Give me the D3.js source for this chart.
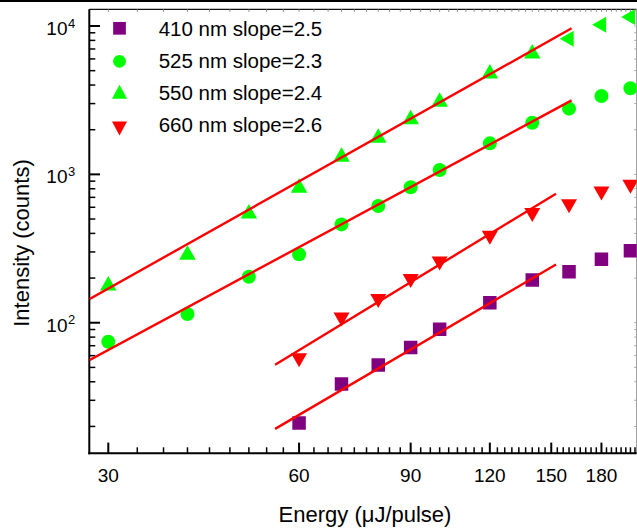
<!DOCTYPE html>
<html>
<head>
<meta charset="utf-8">
<script src="https://cdn.jsdelivr.net/npm/d3@7"></script>
<style>
  html, body { margin: 0; padding: 0; background: #fff; }
  svg { display: block; font-family: "Liberation Sans", Arial, sans-serif; }
</style>
</head>
<body>
<svg id="chart" width="637" height="530"></svg>
<script>
// Pump energy (µJ/pulse) and emission intensity (counts) for each wavelength
const energyGreen = [30, 40, 50, 60, 70, 80, 90, 100, 120, 140, 160, 180, 200];
const energyRedPurple = [60, 70, 80, 90, 100, 120, 140, 160, 180, 200];

const intensity550 = [178, 287, 543, 810, 1310, 1760, 2350, 3075, 4770, 6510, 8200, 10200, 11500];
const intensity525 = [74.4, 114.5, 204, 289, 460, 612, 818, 1070, 1618, 2230, 2772, 3375, 3802];
const intensity660 = [58, 109, 145, 198, 260, 387, 551, 633, 771, 855];
const intensity410 = [21.1, 38.6, 51.9, 68.2, 90.3, 136.4, 194, 220.6, 267.5, 305.7];

// Power-law fits: I = I_ref * (E / E_ref)^slope over [E_start, E_end]
const fitNames   = ["410 nm", "525 nm", "550 nm", "660 nm"];
const fitSlopes  = [2.5, 2.3, 2.4, 2.6];
const fitStart   = [55, 28, 28, 55];
const fitEnd     = [152.6, 161.5, 161.5, 152.6];
const fitRefE    = [91.6, 67.2, 67.2, 91.6];
const fitRefI    = [68.9, 419.4, 1177, 196.5];

// Axis ticks
const xMajorTicks = [30, 60, 90, 120, 150, 180];
const yMajorTicks = [100, 1000, 10000];
const yTickExponents = ["2", "3", "4"];

const svg = d3.select("#chart");
const L = 89.3, R = 636.7, T = 9.3, B = 453.3;

const x = d3.scaleLog().domain([28.0, 204.6]).range([L, R]);
const y = d3.scaleLog().domain([13.18, 12960]).range([B, T]);

// thin black rule across the very top
svg.append("rect").attr("x", 0).attr("y", 0).attr("width", 637).attr("height", 2).attr("fill", "#000");

// minor ticks
const xMinor = d3.range(1, 62).map(k => k * 10 / 3).filter(v => v >= 28 && v <= 204.6 && !xMajorTicks.some(m => Math.abs(m - v) < 1e-6));
const yMinor = [];
[10, 100, 1000, 10000].forEach(d => { for (let m = 2; m <= 9; m++) { const v = m * d; if (v >= 13.18 && v <= 12960) yMinor.push(v); } });

// top and right frame
svg.append("line").attr("x1", L).attr("x2", R).attr("y1", T).attr("y2", T).attr("stroke", "#111").attr("stroke-width", 1.2);
svg.append("line").attr("x1", R).attr("x2", R).attr("y1", T).attr("y2", B).attr("stroke", "#999").attr("stroke-width", 1.2);
svg.append("g").selectAll("line").data(xMinor.concat(xMajorTicks)).join("line")
  .attr("x1", d => x(d)).attr("x2", d => x(d)).attr("y1", T).attr("y2", T + 2.5)
  .attr("stroke", "#888").attr("stroke-width", 1);
svg.append("g").selectAll("line").data(yMinor.concat(yMajorTicks)).join("line")
  .attr("x1", R).attr("x2", R - 2.5).attr("y1", d => y(d)).attr("y2", d => y(d))
  .attr("stroke", "#aaa").attr("stroke-width", 1);

// axes with inward ticks
const ax = svg.append("g").attr("stroke", "#000");
ax.append("line").attr("x1", L).attr("x2", L).attr("y1", T).attr("y2", B + 1).attr("stroke-width", 2);
ax.append("line").attr("x1", L - 1).attr("x2", R).attr("y1", B).attr("y2", B).attr("stroke-width", 2);
ax.selectAll(".xmaj").data(xMajorTicks).join("line").attr("class", "xmaj")
  .attr("x1", d => x(d)).attr("x2", d => x(d)).attr("y1", B).attr("y2", B - 10.7).attr("stroke-width", 2);
ax.selectAll(".xmin").data(xMinor).join("line").attr("class", "xmin")
  .attr("x1", d => x(d)).attr("x2", d => x(d)).attr("y1", B).attr("y2", B - 6).attr("stroke-width", 1.5);
ax.selectAll(".ymaj").data(yMajorTicks).join("line").attr("class", "ymaj")
  .attr("x1", L).attr("x2", L + 10.7).attr("y1", d => y(d)).attr("y2", d => y(d)).attr("stroke-width", 2);
ax.selectAll(".ymin").data(yMinor).join("line").attr("class", "ymin")
  .attr("x1", L).attr("x2", L + 6).attr("y1", d => y(d)).attr("y2", d => y(d)).attr("stroke-width", 1.5);

// tick labels
svg.append("g").selectAll("text").data(xMajorTicks).join("text")
  .attr("x", d => x(d)).attr("y", 482).attr("text-anchor", "middle")
  .attr("font-size", 19).attr("fill", "#000").text(d => d);
const yl = svg.append("g");
yMajorTicks.forEach((v, i) => {
  yl.append("text").attr("x", 67.5).attr("y", y(v) + 9).attr("text-anchor", "end")
    .attr("font-size", 19).text("10");
  yl.append("text").attr("x", 68).attr("y", y(v) + 1.7).attr("font-size", 13).text(yTickExponents[i]);
});

// axis titles
svg.append("text").attr("x", 365).attr("y", 522).attr("text-anchor", "middle")
  .attr("font-size", 22).text("Energy (μJ/pulse)");
svg.append("text").attr("transform", "translate(28.5,243) rotate(-90)").attr("text-anchor", "middle")
  .attr("font-size", 22).text("Intensity (counts)");

// marker shapes (triangles centred on their centroid)
const shapes = {
  square: s => `M${-s/2},${-s/2}h${s}v${s}h${-s}Z`,
  up: (w, h) => `M0,${-2*h/3}L${w/2},${h/3}L${-w/2},${h/3}Z`,
  down: (w, h) => `M0,${2*h/3}L${w/2},${-h/3}L${-w/2},${-h/3}Z`,
  left: (w, h) => `M${-2*w/3},0L${w/3},${-h/2}L${w/3},${h/2}Z`
};

svg.append("defs").append("clipPath").attr("id", "plotclip")
  .append("rect").attr("x", L).attr("y", T).attr("width", R - L).attr("height", B - T);
const plot = svg.append("g").attr("clip-path", "url(#plotclip)");

const purple = "#800080", green = "#00ff00", red = "#ff0000";

// 410 nm squares
plot.append("g").selectAll("path").data(d3.zip(energyRedPurple, intensity410)).join("path")
  .attr("transform", d => `translate(${x(d[0])},${y(d[1])})`)
  .attr("d", shapes.square(13.5)).attr("fill", purple);
// 525 nm circles
plot.append("g").selectAll("circle").data(d3.zip(energyGreen, intensity525)).join("circle")
  .attr("cx", d => x(d[0])).attr("cy", d => y(d[1])).attr("r", 7).attr("fill", green);
// 550 nm triangles (the highest three energies drawn pointing left)
plot.append("g").selectAll("path").data(d3.zip(energyGreen, intensity550)).join("path")
  .attr("transform", d => `translate(${x(d[0])},${y(d[1])})`)
  .attr("d", d => d[0] >= 160 ? shapes.left(14, 16) : shapes.up(16.5, 14.5)).attr("fill", green);
// 660 nm down triangles
plot.append("g").selectAll("path").data(d3.zip(energyRedPurple, intensity660)).join("path")
  .attr("transform", d => `translate(${x(d[0])},${y(d[1])})`)
  .attr("d", shapes.down(16, 14)).attr("fill", red);

// fitted lines
const line = d3.line().x(d => x(d[0])).y(d => y(d[1]));
fitSlopes.forEach((s, i) => {
  const f = e => fitRefI[i] * Math.pow(e / fitRefE[i], s);
  const pts = [fitStart[i], fitEnd[i]].map(e => [e, f(e)]);
  plot.append("path").attr("d", line(pts)).attr("fill", "none")
    .attr("stroke", red).attr("stroke-width", 2.4);
});

// legend
const legend = svg.append("g");
const legendMarkers = [
  { d: shapes.square(12.7), c: purple, cy: 28.3 },
  { circle: true, c: green, cy: 61.3 },
  { d: shapes.up(15, 14), c: green, cy: 94 },
  { d: shapes.down(15, 14), c: red, cy: 126.2 }
];
legendMarkers.forEach((m, i) => {
  if (m.circle) legend.append("circle").attr("cx", 119.5).attr("cy", m.cy).attr("r", 6.4).attr("fill", m.c);
  else legend.append("path").attr("transform", `translate(119.5,${m.cy})`).attr("d", m.d).attr("fill", m.c);
  legend.append("text").attr("x", 158.7).attr("y", 36 + i * 32.1).attr("font-size", 20.5)
    .text(`${fitNames[i]} slope=${fitSlopes[i]}`);
});
</script>
</body>
</html>
